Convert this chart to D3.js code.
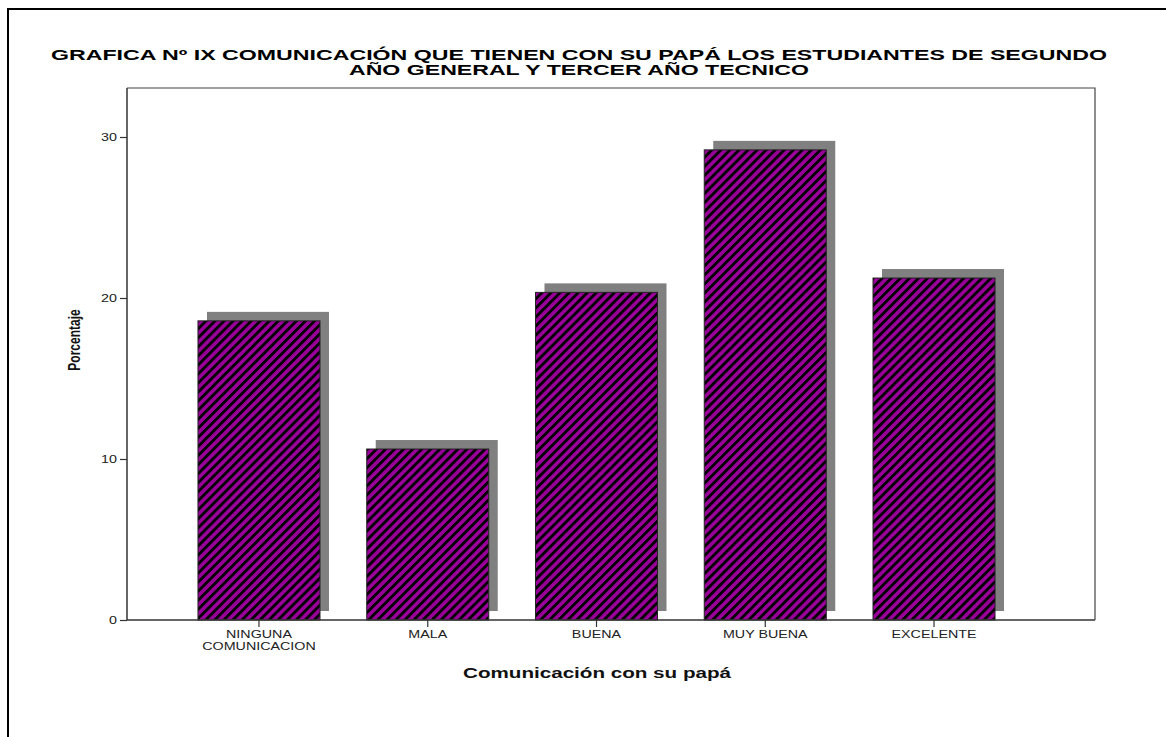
<!DOCTYPE html>
<html>
<head>
<meta charset="utf-8">
<script src="https://cdn.jsdelivr.net/npm/d3@7"></script>
<style>
  html, body { margin: 0; padding: 0; background: #fff; }
  svg { display: block; }
  text { font-family: "Liberation Sans", Arial, sans-serif; }
</style>
</head>
<body>
<svg id="chart" width="1166" height="737"></svg>
<script>
const titleLines = ["GRAFICA Nº IX COMUNICACIÓN QUE TIENEN CON SU PAPÁ LOS ESTUDIANTES DE SEGUNDO",
                    "AÑO GENERAL Y TERCER AÑO TECNICO"];
const titleWidths = [1056, 460];
const categories = ["NINGUNA\nCOMUNICACION", "MALA", "BUENA", "MUY BUENA", "EXCELENTE"];
const values = [18.58, 10.62, 20.35, 29.20, 21.24];
const yTicks = [0, 10, 20, 30];
const xTitle = "Comunicación con su papá";
const yTitle = "Porcentaje";

const svg = d3.select("#chart");
const stretch = 1.3;

// outer frame (left and top only visible)
svg.append("path").attr("d", "M8,737 V9 H1166").attr("fill", "none")
  .attr("stroke", "#000").attr("stroke-width", 2);

const plot = { left: 127, right: 1095, top: 88, bottom: 620 };

const x = d3.scaleBand().domain(categories).range([174.6, 1018.4])
  .paddingInner(0.277).paddingOuter(0.1385);
const y = d3.scaleLinear().domain([0, 10]).range([plot.bottom, 459]);

// pattern
const defs = svg.append("defs");
const pat = defs.append("pattern").attr("id", "hatch").attr("patternUnits", "userSpaceOnUse")
  .attr("width", 6.4).attr("height", 10).attr("patternTransform", "rotate(45)");
pat.append("rect").attr("width", 6.4).attr("height", 10).attr("fill", "#990099");
pat.append("rect").attr("width", 2.8).attr("height", 10).attr("fill", "#000");

// plot box (top and right)
svg.append("path")
  .attr("d", `M${plot.left},${plot.top} H${plot.right} V${plot.bottom}`)
  .attr("fill", "none").attr("stroke", "#444").attr("stroke-width", 1.2);

// shadows
const off = 9;
svg.append("g").selectAll("rect").data(values).join("rect")
  .attr("x", (d, i) => x(categories[i]) + off)
  .attr("y", d => y(d) - off)
  .attr("width", x.bandwidth())
  .attr("height", d => y(0) - y(d))
  .attr("fill", "#808080");

// bars
svg.append("g").selectAll("rect").data(values).join("rect")
  .attr("x", (d, i) => x(categories[i]))
  .attr("y", d => y(d))
  .attr("width", x.bandwidth())
  .attr("height", d => y(0) - y(d))
  .attr("fill", "url(#hatch)")
  .attr("stroke", "#222").attr("stroke-width", 1);

// y axis
const yAxis = svg.append("g").attr("transform", `translate(${plot.left},0)`)
  .call(d3.axisLeft(y).tickValues(yTicks).tickSize(7).tickPadding(2).tickFormat(d3.format("d")));
yAxis.select(".domain").attr("d", `M0,${plot.top}V${plot.bottom}`).attr("stroke", "#333").attr("stroke-width", 1.5);
yAxis.selectAll(".tick line").attr("stroke", "#333").attr("stroke-width", 1.2);
yAxis.selectAll(".tick text").attr("font-size", 11).attr("fill", "#222")
  .attr("font-family", "Liberation Sans, Arial, sans-serif")
  .attr("x", -10 / stretch).attr("transform", `scale(${stretch},1)`);

// x axis
const xAxis = svg.append("g").attr("transform", `translate(0,${plot.bottom})`)
  .call(d3.axisBottom(x).tickSize(7).tickFormat(""));
xAxis.select(".domain").attr("d", `M${plot.left},0H${plot.right}`).attr("stroke", "#333").attr("stroke-width", 1.5);
xAxis.selectAll(".tick line").attr("stroke", "#333").attr("stroke-width", 1.2);
xAxis.selectAll(".tick").each(function(d) {
  const lines = d.split("\n");
  const t = d3.select(this).append("text").attr("fill", "#222").attr("font-size", 11)
    .attr("text-anchor", "middle").attr("font-family", "Liberation Sans, Arial, sans-serif")
    .attr("transform", `scale(${stretch},1)`);
  lines.forEach((l, i) => t.append("tspan").attr("x", 0).attr("y", 18 + i * 12).text(l));
});

// title
titleLines.forEach((l, i) => svg.append("text").attr("text-anchor", "middle").attr("font-weight", "bold")
  .attr("font-size", 15).attr("fill", "#000")
  .attr("x", 579).attr("y", 60 + i * 14.5)
  .attr("textLength", titleWidths[i]).attr("lengthAdjust", "spacingAndGlyphs").text(l));

// axis titles
svg.append("text").attr("x", 597).attr("y", 678).attr("text-anchor", "middle")
  .attr("font-weight", "bold").attr("font-size", 14)
  .attr("textLength", 268).attr("lengthAdjust", "spacingAndGlyphs")
  .attr("fill", "#111").text(xTitle);
svg.append("text").attr("transform", `translate(80,340) rotate(-90) scale(1,${stretch})`).attr("text-anchor", "middle")
  .attr("font-weight", "bold").attr("font-size", 12).attr("fill", "#111").text(yTitle);
</script>
</body>
</html>
